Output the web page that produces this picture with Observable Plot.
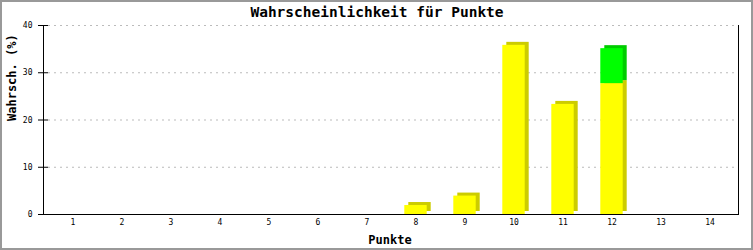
<!DOCTYPE html>
<html>
<head>
<meta charset="utf-8">
<script src="https://cdn.jsdelivr.net/npm/d3@7"></script>
<script src="https://cdn.jsdelivr.net/npm/@observablehq/plot@0.6"></script>
<style>
  html, body { margin: 0; padding: 0; background: #fff; }
  #chart svg { display: block; outline: 2px solid #999; outline-offset: -2px; }
</style>
</head>
<body>
<div id="chart"></div>
<script>
const title = "Wahrscheinlichkeit für Punkte";
const xLabel = "Punkte";
const yLabel = "Wahrsch. (%)";
const points = [1, 2, 3, 4, 5, 6, 7, 8, 9, 10, 11, 12, 13, 14];
const yellowValues = [0, 0, 0, 0, 0, 0, 0, 1.9, 3.9, 35.8, 23.3, 27.7, 0, 0];
const greenValues = [0, 0, 0, 0, 0, 0, 0, 0, 0, 0, 0, 7.4, 0, 0];
const yTicks = [0, 10, 20, 30, 40];

const rows = [];
points.forEach((p, i) => {
  rows.push({p, s: "yellow", v: yellowValues[i]});
  rows.push({p, s: "green", v: greenValues[i]});
});
const data = rows.filter(d => d.v > 0);

const fills = {yellow: "#ffff00", green: "#00ff00"};
const shades = {yellow: "#cccc00", green: "#00cc00"};
const mono = "'DejaVu Sans Mono', monospace";
const inset = 13.3;

const chart = Plot.plot({
  width: 753,
  height: 250,
  marginLeft: 43,
  marginRight: 15,
  marginTop: 25,
  marginBottom: 36,
  style: {fontFamily: mono, background: "#fff"},
  x: {type: "band", domain: points, padding: 0},
  y: {domain: [0, 40]},
  marks: [
    Plot.ruleY(yTicks.filter(t => t > 0), {insetLeft: 5, stroke: "#bbb", strokeDasharray: "2,4"}),
    Plot.barY(data, Plot.stackY({x: "p", y: "v", z: "s", order: ["yellow", "green"],
      fill: d => shades[d.s], insetLeft: inset, insetRight: inset, dx: 4, dy: -3})),
    Plot.barY(data, Plot.stackY({x: "p", y: "v", z: "s", order: ["yellow", "green"],
      fill: d => fills[d.s], insetLeft: inset, insetRight: inset})),
    Plot.axisY({ticks: yTicks, tickSize: 5, tickPadding: 6, fontSize: 8, label: null, stroke: "#000"}),
    Plot.ruleY(yTicks, {insetRight: 695 - 5, stroke: "#000"}),
    Plot.axisX({tickSize: 0, tickPadding: 5, fontSize: 8, label: null, fill: "#000"}),
    Plot.frame({anchor: "left", stroke: "#000"}),
    Plot.frame({anchor: "right", stroke: "#000"}),
    Plot.ruleY([0], {stroke: "#000"}),
    Plot.text([title], {frameAnchor: "top", lineAnchor: "middle", dy: -13, dx: -14, fontSize: 14.5, fontWeight: "bold", fontFamily: mono, fill: "#000"}),
    Plot.text([xLabel], {frameAnchor: "bottom", lineAnchor: "middle", dy: 26, dx: -1, fontSize: 12, fontWeight: "bold", fontFamily: mono, fill: "#000"}),
    Plot.text([yLabel], {frameAnchor: "left", lineAnchor: "middle", dx: -31, dy: 1, rotate: -90, fontSize: 12, fontWeight: "bold", fontFamily: mono, fill: "#000"})
  ]
});
document.getElementById("chart").append(chart);
</script>
</body>
</html>
